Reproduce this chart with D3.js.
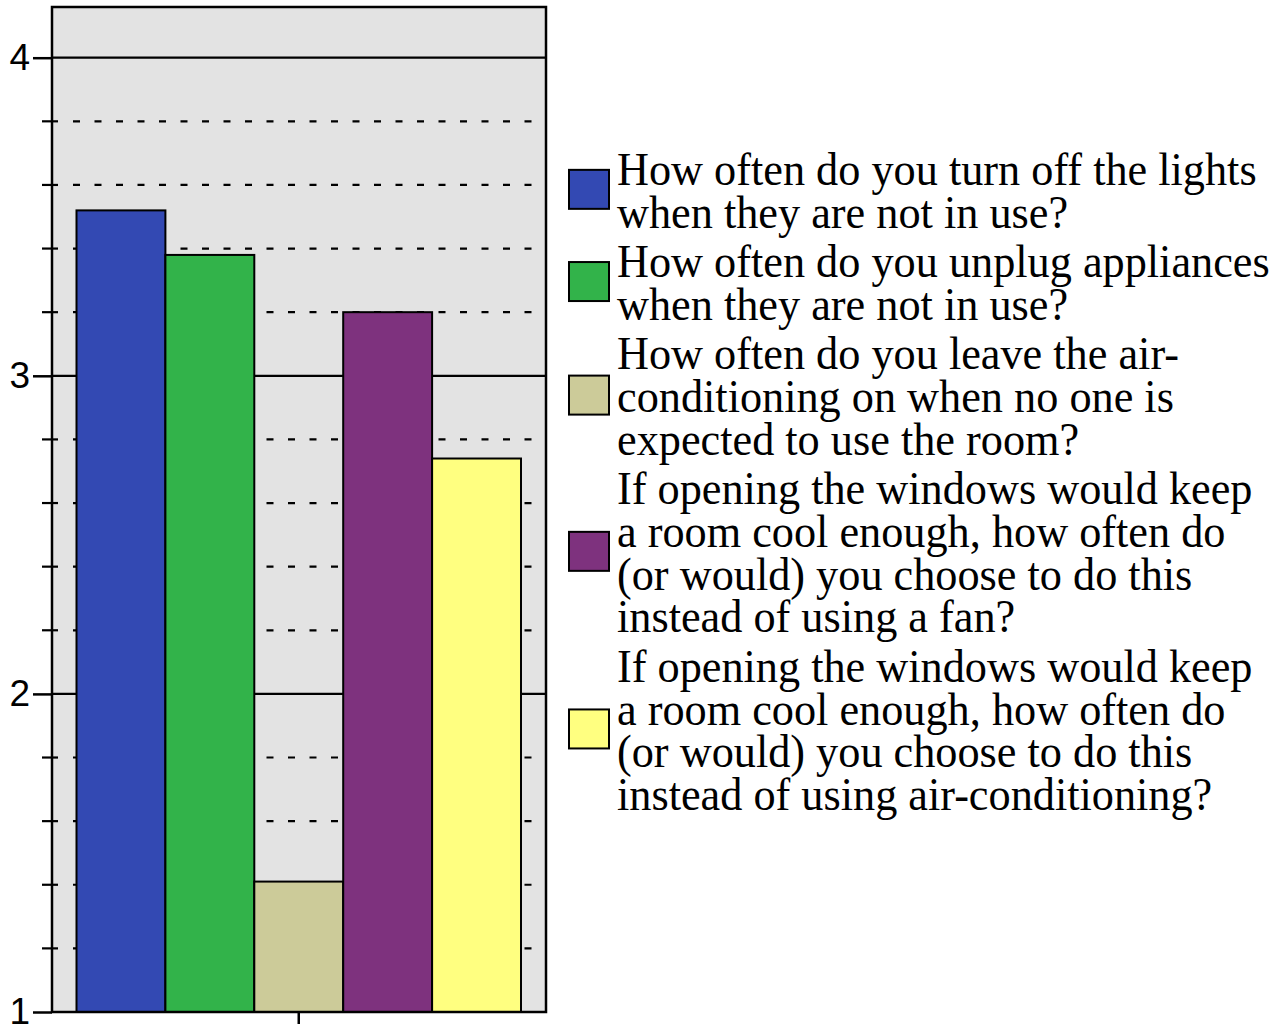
<!DOCTYPE html>
<html>
<head>
<meta charset="utf-8">
<script src="https://cdn.jsdelivr.net/npm/d3@7"></script>
<style>
  html, body { margin: 0; padding: 0; background: #ffffff; }
  svg { display: block; }
</style>
</head>
<body>
<script>
// ---- data ----
const categories = ["Q"];
const seriesLabels = [
  ["How often do you turn off the lights", "when they are not in use?"],
  ["How often do you unplug appliances", "when they are not in use?"],
  ["How often do you leave the air-", "conditioning on when no one is", "expected to use the room?"],
  ["If opening the windows would keep", "a room cool enough, how often do", "(or would) you choose to do this", "instead of using a fan?"],
  ["If opening the windows would keep", "a room cool enough, how often do", "(or would) you choose to do this", "instead of using air-conditioning?"]
];
const seriesValues = [3.52, 3.38, 1.41, 3.20, 2.74];
const seriesColors = ["#3349b3", "#32b34a", "#cccb99", "#7e327e", "#ffff80"];
const majorTicks = [1, 2, 3, 4];
const minorTicks = [1.2, 1.4, 1.6, 1.8, 2.2, 2.4, 2.6, 2.8, 3.2, 3.4, 3.6, 3.8];

// ---- layout ----
const W = 1287, H = 1024;
const plot = { left: 52, right: 546, top: 7, bottom: 1012 };

const svg = d3.select("body").append("svg").attr("width", W).attr("height", H);

const y = d3.scaleLinear().domain([1, 4]).range([1012, 57.7]);
const xCat = d3.scaleBand().domain(categories).range([76.5, 521]).paddingInner(0);
const xSer = d3.scaleBand().domain(d3.range(seriesValues.length)).range([0, xCat.bandwidth()]).padding(0);

// background
svg.append("rect")
  .attr("x", plot.left).attr("y", plot.top)
  .attr("width", plot.right - plot.left).attr("height", plot.bottom - plot.top)
  .attr("fill", "#e3e3e3");

// dashed minor gridlines
svg.append("g").selectAll("line").data(minorTicks).join("line")
  .attr("x1", 73).attr("x2", 533)
  .attr("y1", d => y(d)).attr("y2", d => y(d))
  .attr("stroke", "#000").attr("stroke-width", 2.2)
  .attr("stroke-dasharray", "7,14.5");

// solid major gridlines
svg.append("g").selectAll("line").data(majorTicks.filter(d => d > 1)).join("line")
  .attr("x1", plot.left).attr("x2", plot.right)
  .attr("y1", d => y(d)).attr("y2", d => y(d))
  .attr("stroke", "#000").attr("stroke-width", 2.2);

// bars
svg.append("g").selectAll("rect").data(seriesValues).join("rect")
  .attr("x", (d, i) => xCat(categories[0]) + xSer(i))
  .attr("width", xSer.bandwidth())
  .attr("y", d => y(d))
  .attr("height", d => y(1) - y(d))
  .attr("fill", (d, i) => seriesColors[i])
  .attr("stroke", "#000").attr("stroke-width", 2);

// frame
svg.append("rect")
  .attr("x", plot.left).attr("y", plot.top)
  .attr("width", plot.right - plot.left).attr("height", plot.bottom - plot.top)
  .attr("fill", "none").attr("stroke", "#000").attr("stroke-width", 2.5);

// minor ticks on left axis
svg.append("g").selectAll("line").data(minorTicks).join("line")
  .attr("x1", 42).attr("x2", 58)
  .attr("y1", d => y(d)).attr("y2", d => y(d))
  .attr("stroke", "#000").attr("stroke-width", 2.2);

// left axis (major ticks + labels)
const yAxis = d3.axisLeft(y).tickValues(majorTicks).tickFormat(d3.format("d")).tickSize(19).tickPadding(3);
const gy = svg.append("g").attr("transform", `translate(${plot.left},0)`).call(yAxis);
gy.select(".domain").remove();
gy.selectAll(".tick line").attr("stroke", "#000").attr("stroke-width", 2.5);
gy.selectAll(".tick text")
  .attr("font-family", "'Liberation Sans', Arial, sans-serif")
  .attr("font-size", 37).attr("fill", "#000");

// bottom category axis (single tick, no visible label)
const xAxis = d3.axisBottom(xCat).tickSize(16).tickFormat("");
const gx = svg.append("g").attr("transform", `translate(0,${plot.bottom})`).call(xAxis);
gx.select(".domain").remove();
gx.selectAll(".tick line").attr("stroke", "#000").attr("stroke-width", 2.5);

// legend
const lineH = 42.7, itemGap = 49.5, fontSize = 46;
const legend = svg.append("g");
let base = 185;
seriesLabels.forEach((lines, i) => {
  const first = base;
  const lastB = base + (lines.length - 1) * lineH;
  const blockCenter = (first + lastB) / 2 - 14;
  legend.append("rect")
    .attr("x", 569).attr("y", blockCenter - 3 - 19.5)
    .attr("width", 40).attr("height", 39)
    .attr("fill", seriesColors[i]).attr("stroke", "#000").attr("stroke-width", 2);
  lines.forEach((t, j) => {
    legend.append("text")
      .attr("class", "lt")
      .attr("x", 0).attr("y", base + j * lineH)
      .attr("font-family", "'Liberation Serif', 'Times New Roman', serif")
      .attr("font-size", fontSize).attr("fill", "#000")
      .text(t);
  });
  base = lastB + lineH + (itemGap - lineH);
});
// condense legend text horizontally to fit the first line's width (617 -> 1257)
const lt = legend.selectAll("text.lt");
const w0 = lt.nodes()[0].getComputedTextLength();
const sx = 640 / w0;
lt.attr("transform", `translate(617,0) scale(${sx},1)`);
</script>
</body>
</html>
